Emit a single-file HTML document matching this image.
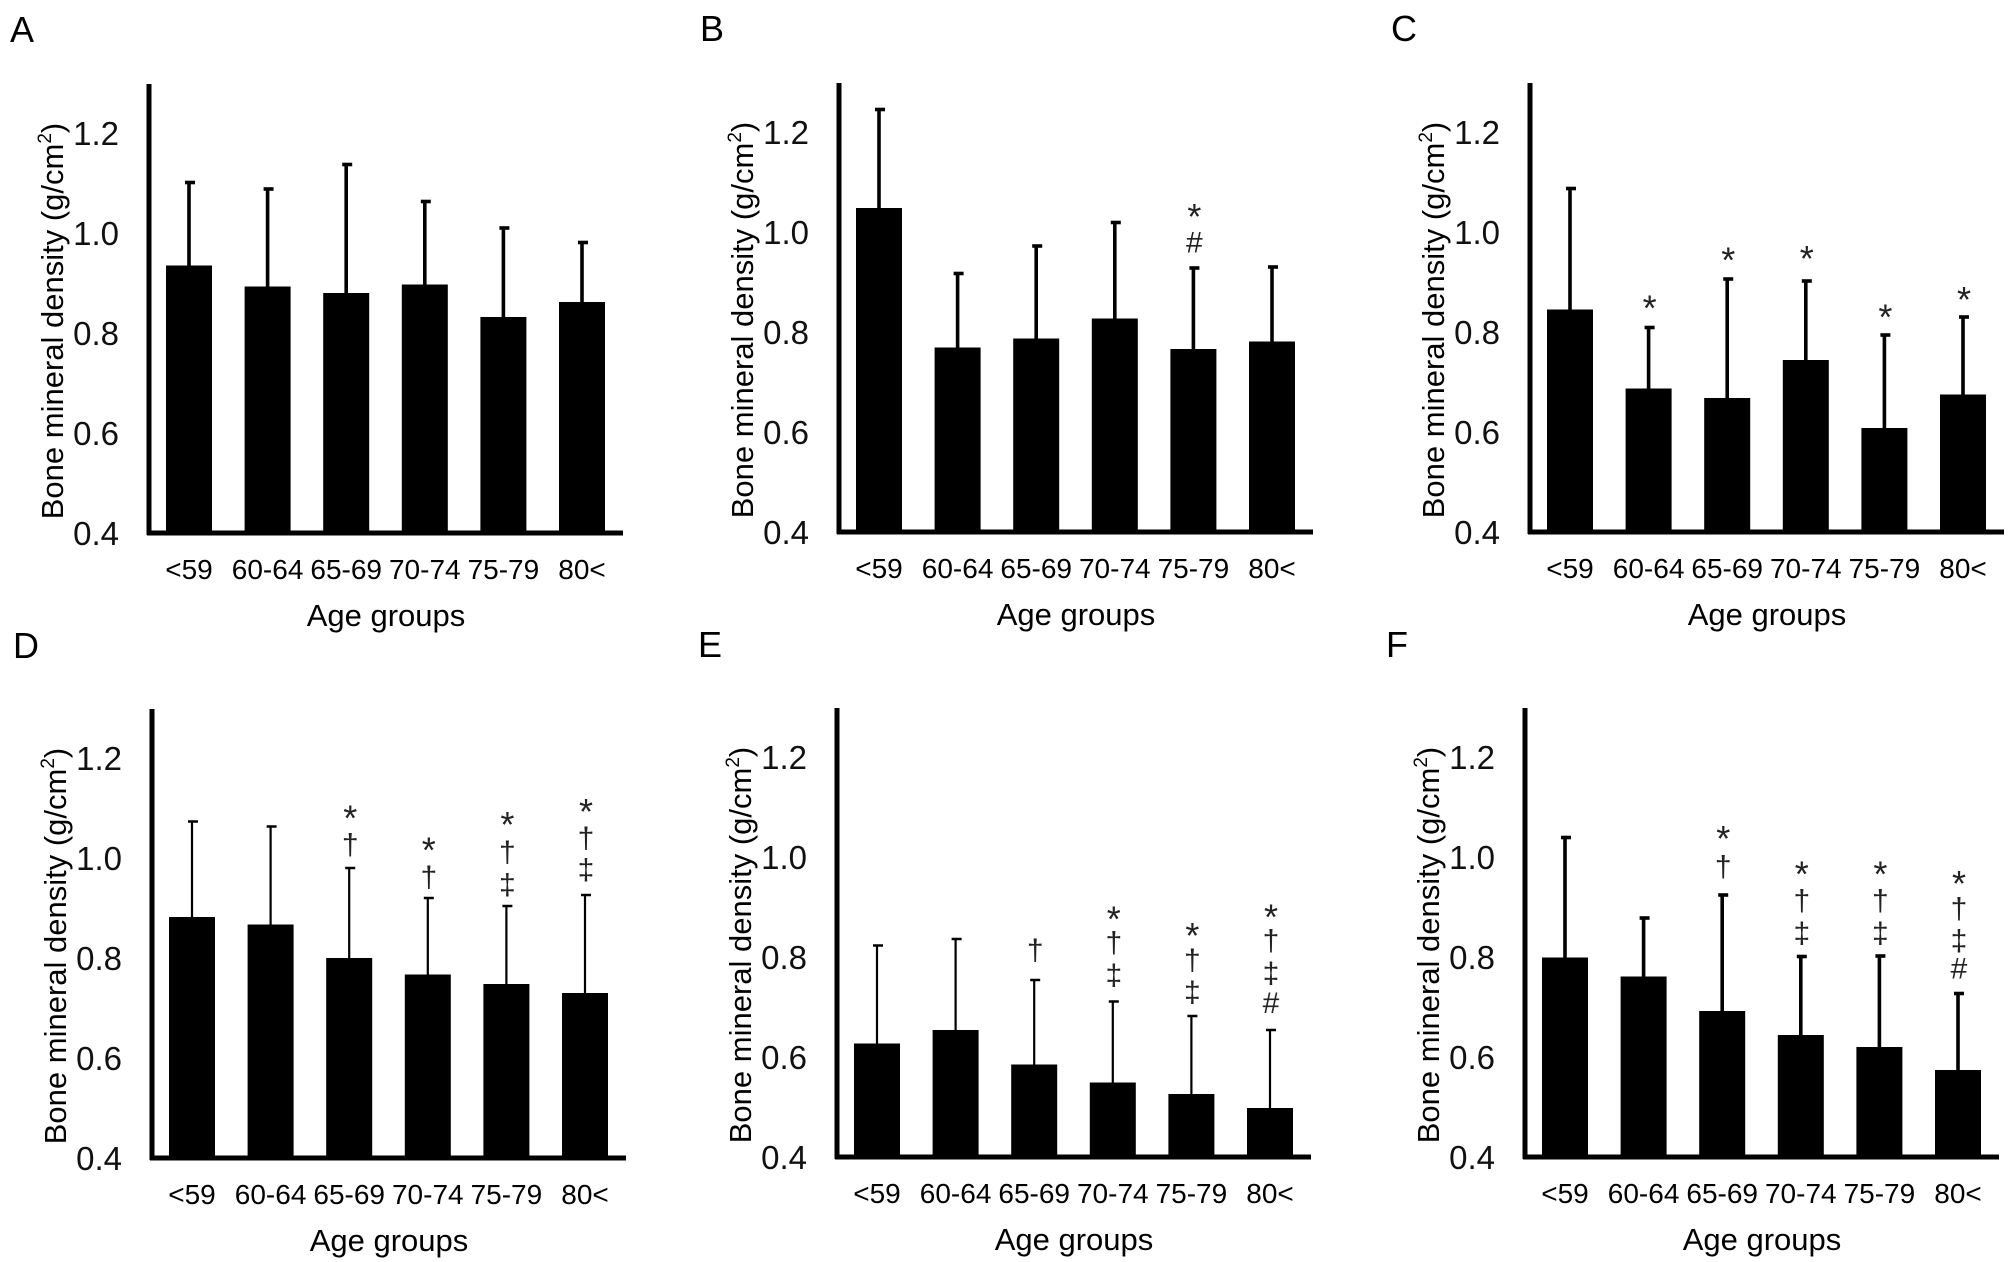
<!DOCTYPE html>
<html><head><meta charset="utf-8"><style>
html,body{margin:0;padding:0;background:#fff;}
svg{display:block;font-family:"Liberation Sans",Arial,sans-serif;}
</style></head><body>
<svg id="s" width="2012" height="1262" xmlns="http://www.w3.org/2000/svg"></svg>
<script>
var NS="http://www.w3.org/2000/svg",S=document.getElementById('s');
function el(t,a,txt){var e=document.createElementNS(NS,t);for(var k in a)e.setAttribute(k,a[k]);if(txt!==undefined)e.textContent=txt;S.appendChild(e);return e;}
var cats=["<59","60-64","65-69","70-74","75-79","80<"];
var P=[
{L:"A",ax:149,b:566,lab:-491,thin:0,v:[0.935,0.893,0.880,0.897,0.832,0.862],e:[1.101,1.088,1.137,1.063,1.010,0.981],m:[]},
{L:"B",ax:839,b:565,lab:-491,thin:0,v:[1.048,0.769,0.787,0.827,0.766,0.781],e:[1.245,0.917,0.972,1.019,0.928,0.930],m:[[4,"*",-346],[4,"#",-312]]},
{L:"C",ax:1530,b:565,lab:-491,thin:0,v:[0.845,0.687,0.668,0.744,0.608,0.675],e:[1.087,0.809,0.906,0.902,0.794,0.830],m:[[1,"*",-248],[2,"*",-299],[3,"*",-301],[4,"*",-238],[5,"*",-257]]},
{L:"D",ax:152,b:1191,lab:-500,thin:1,v:[0.882,0.867,0.800,0.767,0.748,0.730],e:[1.073,1.063,0.980,0.920,0.904,0.926],m:[[2,"*",-372],[2,"†",-338],[3,"*",-338],[3,"†",-303],[4,"*",-365],[4,"†",-330],[4,"‡",-295],[5,"*",-379],[5,"†",-345],[5,"‡",-311]]},
{L:"E",ax:837,b:1190,lab:-500,thin:1,v:[0.627,0.654,0.585,0.549,0.526,0.498],e:[0.823,0.836,0.754,0.711,0.682,0.654],m:[[2,"†",-224],[3,"*",-263],[3,"†",-232],[3,"‡",-197],[4,"*",-245],[4,"†",-213],[4,"‡",-179],[5,"*",-265],[5,"†",-234],[5,"‡",-199],[5,"#",-167]]},
{L:"F",ax:1525,b:1190,lab:-500,thin:0,v:[0.799,0.761,0.692,0.644,0.620,0.574],e:[1.039,0.878,0.924,0.801,0.802,0.727],m:[[2,"*",-349],[2,"†",-313],[3,"*",-311],[3,"†",-277],[3,"‡",-242],[4,"*",-311],[4,"†",-277],[4,"‡",-242],[5,"*",-301],[5,"†",-268],[5,"‡",-234],[5,"#",-204]]}
];
P.forEach(function(p){
 var ax=p.ax,b=p.b-33,K=0.934;function Y(v){return b-500*(v-0.4);}
 el('text',{x:ax-139,y:b+p.lab,'font-size':36},p.L);
 for(var i=0;i<6;i++){
  var x=ax+17+78.6*i,c=x+23,top=Y(p.v[i]),et=Y(p.e[i]);
  el('rect',{x:x,y:top,width:46,height:b-top,fill:'#000'});
  var lw=p.thin?2.2:3.6;
  el('line',{x1:c,y1:top,x2:c,y2:et,stroke:'#000','stroke-width':lw});
  el('line',{x1:c-4,y1:et,x2:c+6,y2:et,stroke:'#000','stroke-width':p.thin?2.5:3.6});
  el('text',{x:c,y:b+46,'font-size':28,'text-anchor':'middle'},cats[i]);
 }
 el('line',{x1:ax,y1:b-449,x2:ax,y2:b+2,stroke:'#000','stroke-width':5});
 el('line',{x1:ax-2,y1:b,x2:ax+474,y2:b,stroke:'#000','stroke-width':5});
 ["0.4","0.6","0.8","1.0","1.2"].forEach(function(t,k){el('text',{x:ax-30,y:b-100*k+12,'font-size':33,'text-anchor':'end',fill:'#111'},t);});
 var t=el('text',{transform:'translate('+(ax-86)+','+(b-212)+') rotate(-90)','font-size':31,'text-anchor':'middle'});
 t.appendChild(document.createTextNode("Bone mineral density (g/cm"));
 var sp=document.createElementNS(NS,'tspan');sp.setAttribute('font-size',19);sp.setAttribute('dy',-12);sp.textContent="2";t.appendChild(sp);
 var sp2=document.createElementNS(NS,'tspan');sp2.setAttribute('dy',12);sp2.textContent=")";t.appendChild(sp2);
 el('text',{x:ax+237,y:b+93,'font-size':31,'text-anchor':'middle'},"Age groups");
 p.m.forEach(function(m){
  var c=ax+17+78.6*m[0]+24;var off=m[1]=="*"?20:12;
  el('text',{x:c,y:b+m[2]*K+off,'font-size':m[1]=="*"?36:30,'text-anchor':'middle',fill:'#222'},m[1]);
 });
});
</script>
</body></html>
